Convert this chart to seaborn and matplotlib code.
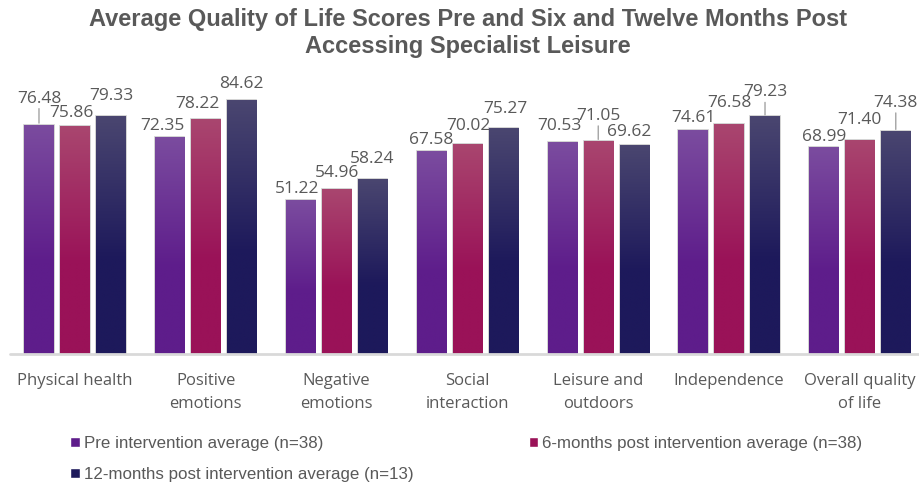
import numpy as np
import pandas as pd
import matplotlib
matplotlib.use("Agg")
import matplotlib.pyplot as plt
import seaborn as sns
from matplotlib.colors import to_rgb
from matplotlib.patches import Patch

# --- data ---
categories = ["Physical health", "Positive\nemotions", "Negative\nemotions",
              "Social\ninteraction", "Leisure and\noutdoors", "Independence",
              "Overall quality\nof life"]
series = ["Pre intervention average (n=38)",
          "6-months post intervention average (n=38)",
          "12-months post intervention average (n=13)"]
pre_vals = [76.48, 72.35, 51.22, 67.58, 70.53, 74.61, 68.99]
six_vals = [75.86, 78.22, 54.96, 70.02, 71.05, 76.58, 71.40]
twelve_vals = [79.33, 84.62, 58.24, 75.27, 69.62, 79.23, 74.38]

# gradient colours (top, bottom) per series
top_cols = ["#7B4C9F", "#A9466F", "#4A4670"]
bot_cols = ["#5E1D8B", "#9A1258", "#1D195B"]

# label nudges in pixels (dx, dy above bar top), and which get a leader line
label_offsets = [
    [(0, 26), (-7, 11), (-3, 11), (0, 11), (-3, 16), (0, 12), (0, 10)],
    [(-4, 13), (-8, 15), (0, 16), (1, 18), (0, 25), (0, 21), (0, 20)],
    [(0, 20), (0, 16), (0, 20), (2, 19), (-5, 13), (0, 24), (0, 28)],
]
leaders = {(0, 0), (1, 4), (2, 5), (2, 6)}

TXT = "#595959"

df = pd.DataFrame({
    "category": categories * 3,
    "series": np.repeat(series, len(categories)),
    "value": pre_vals + six_vals + twelve_vals,
})

sns.set_style("white")
plt.rcParams["font.family"] = ["Open Sans", "DejaVu Sans"]

fig = plt.figure(figsize=(9.2, 4.83), dpi=100)
ax = fig.add_axes([9.6 / 920, (483 - 354) / 483, 915.6 / 920, 270 / 483])

sns.barplot(data=df, x="category", y="value", hue="series", order=categories,
            hue_order=series, palette=bot_cols, width=0.826, gap=0.19,
            saturation=1, ax=ax, legend=False, linewidth=0)

ax.set_ylim(0, 90)
ax.set_xlim(-0.5, len(categories) - 0.5)
xl, yl = ax.get_xlim(), ax.get_ylim()

# vertical gradient fill in every bar
for i, cont in enumerate(ax.containers):
    t = np.array(to_rgb(top_cols[i]))
    b = np.array(to_rgb(bot_cols[i]))
    frac = np.clip(np.linspace(0, 1, 200) / 0.6, 0, 1)  # 0 at top
    grad = (t[None, :] * (1 - frac[:, None]) + b[None, :] * frac[:, None])[:, None, :]
    for j, bar in enumerate(cont):
        x0, w, h = bar.get_x(), bar.get_width(), bar.get_height()
        bar.set_edgecolor((0.6, 0.6, 0.6, 0.5))
        bar.set_linewidth(1.2)
        im = ax.imshow(grad, extent=[x0, x0 + w, 0, h], aspect="auto",
                       origin="upper", zorder=bar.get_zorder() + 0.1,
                       interpolation="bilinear")
        im.set_clip_path(bar)
        # value label
        dx, dy = label_offsets[i][j]
        cx = x0 + w / 2
        ax.annotate(f"{h:.2f}", (cx, h), xytext=(dx, dy), textcoords="offset pixels",
                    ha="center", va="center", fontsize=12.5, color=TXT, zorder=5)
        if (i, j) in leaders:
            ax.annotate("", (cx, h), xytext=(0, dy - 10), textcoords="offset pixels",
                        arrowprops=dict(arrowstyle="-", color="#8c8c8c", lw=0.8,
                                        shrinkA=0, shrinkB=1))

ax.set_xlim(xl)
ax.set_ylim(yl)

ax.axhline(0, color="#D9D9D9", lw=2, zorder=6, clip_on=False)
for s in ax.spines.values():
    s.set_visible(False)
ax.set_yticks([])
ax.set_xlabel("")
ax.set_ylabel("")
ax.tick_params(axis="x", length=0, pad=14, labelsize=12, labelcolor=TXT)
ax.set_xticks(range(len(categories)))
ax.set_xticklabels(categories, linespacing=1.55, va="top")

fig.text(0.509, 0.983, "Average Quality of Life Scores Pre and Six and Twelve Months Post\n"
         "Accessing Specialist Leisure", ha="center", va="top",
         fontsize=17, fontweight="bold", color=TXT, linespacing=1.2,
         family=["Liberation Sans Narrow", "Liberation Sans"])

handles = [Patch(facecolor=c) for c in bot_cols]
order = [0, 2, 1]
leg = fig.legend([handles[k] for k in order], [series[k] for k in order],
                 loc="upper left", bbox_to_anchor=(55 / 920, 1 - 421 / 483),
                 ncol=2, frameon=False, handlelength=0.55, handleheight=0.55,
                 handletextpad=0.25, columnspacing=6.8, labelspacing=0.95,
                 prop={"family": "Liberation Sans", "size": 12.2})
for t in leg.get_texts():
    t.set_color(TXT)

fig.savefig("out.png", dpi=100)
